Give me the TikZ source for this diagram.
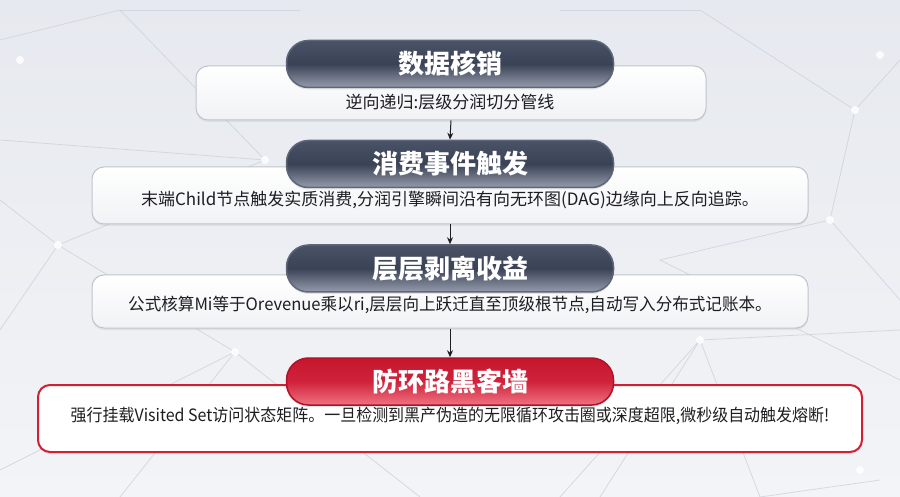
\documentclass[tikz,border=0pt]{standalone}
\usepackage{fontspec}
\usepackage{graphicx}
\newfontfamily\cjk{Noto Sans CJK SC}
\usetikzlibrary{shadows,arrows.meta}
\definecolor{bgTop}{HTML}{E6E9EF}
\definecolor{bgBot}{HTML}{F3F4F7}
\definecolor{netLine}{HTML}{CDD2DB}
\definecolor{cardEdge}{HTML}{BFC4CD}
\definecolor{cardBot}{HTML}{F1F2F5}
\definecolor{pillTop}{HTML}{4A5267}
\definecolor{pillMid}{HTML}{3A4256}
\definecolor{pillBot}{HTML}{959CAC}
\definecolor{pillEdge}{HTML}{5E6679}
\definecolor{redTop}{HTML}{C4162D}
\definecolor{redMid}{HTML}{D0223A}
\definecolor{redBot}{HTML}{EE7382}
\definecolor{redEdge}{HTML}{B31027}
\definecolor{redLine}{HTML}{D11F33}
\definecolor{txt}{HTML}{1E1E22}
\tikzset{
  card/.style={draw=cardEdge, line width=1pt, rounded corners=12pt,
    top color=white, bottom color=cardBot, inner sep=0pt,
    drop shadow={opacity=0.12, shadow xshift=0pt, shadow yshift=-2pt}},
  redcard/.style={draw=redLine, line width=2pt, rounded corners=12pt,
    fill=white, inner sep=0pt,
    drop shadow={opacity=0.12, shadow xshift=0pt, shadow yshift=-2pt}},
  pill/.style={draw=pillEdge, line width=1.5pt, rounded corners=22pt,
    minimum width=327pt, minimum height=47pt, inner sep=0pt,
    top color=pillTop, bottom color=pillBot, middle color=pillMid,
    text=white, font=\cjk\bfseries\fontsize{26}{26}\selectfont,
    drop shadow={opacity=0.2, shadow xshift=0pt, shadow yshift=-2pt}},
  redpill/.style={pill, draw=redEdge, top color=redTop, bottom color=redBot, middle color=redMid},
  sub/.style={text=txt, font=\cjk\fontsize{17}{17}\selectfont, inner sep=0pt},
  arr/.style={draw=txt, line width=1pt, -{Stealth[length=7pt,width=6pt]}},
  net/.style={draw=netLine, line width=0.8pt, opacity=0.8},
  dot/.style={fill=white, opacity=0.85}
}
\begin{document}
\begin{tikzpicture}[x=1pt,y=-1pt]
\useasboundingbox (0,0) rectangle (900,497);
\shade[top color=bgTop, bottom color=bgBot] (0,0) rectangle (900,497);
% background network
\foreach \a/\b in {
  {(0,40)}/{(120,10)}, {(120,10)}/{(265,160)}, {(0,140)}/{(265,160)},
  {(58,245)}/{(265,160)}, {(58,245)}/{(0,330)}, {(58,245)}/{(235,352)},
  {(235,352)}/{(120,497)}, {(235,352)}/{(0,470)}, {(235,352)}/{(420,497)},
  {(700,10)}/{(855,110)}, {(855,110)}/{(900,60)}, {(855,110)}/{(830,220)},
  {(830,220)}/{(900,300)}, {(830,220)}/{(660,260)}, {(660,260)}/{(900,380)},
  {(700,340)}/{(900,330)}, {(700,340)}/{(760,497)}, {(700,340)}/{(560,497)},
  {(880,480)}/{(760,497)}, {(560,10)}/{(700,10)}, {(300,10)}/{(120,10)},
  {(0,200)}/{(58,245)}, {(600,497)}/{(700,340)}}
  {\draw[net] \a -- \b;}
\foreach \p in {(58,245),(235,352),(265,160),(855,110),(830,220),(880,55),(700,340),(20,60),(860,470)}
  {\fill[dot] \p circle (4pt);}
% cards
\node[card, minimum width=510pt, minimum height=54pt] (b1) at (451,93) {};
\node[card, minimum width=716pt, minimum height=57pt] (b2) at (450,195.5) {};
\node[card, minimum width=716pt, minimum height=53pt] (b3) at (450,301.5) {};
\node[redcard, minimum width=824pt, minimum height=67pt] (b4) at (450,418.5) {};
% subtitles
\node[sub] (s1) at (450,102) {逆向递归:层级分润切分管线};
\node[sub] (s2) at (450,200) {末端Child节点触发实质消费,分润引擎瞬间沿有向无环图(DAG)边缘向上反向追踪。};
\node[sub] (s3) at (450,305) {\scalebox{0.975}[1]{公式核算Mi等于Orevenue乘以ri,层层向上跃迁直至顶级根节点,自动写入分布式记账本。}};
\node[sub] (s4) at (450,416) {\scalebox{0.94}[1]{强行挂载Visited Set访问状态矩阵。一旦检测到黑产伪造的无限循环攻击圈或深度超限,微秒级自动触发熔断!}};
% pills
\node[pill] (p1) at (450,64) {数据核销};
\node[pill] (p2) at (450,164) {消费事件触发};
\node[pill] (p3) at (450,268.5) {层层剥离收益};
\node[redpill] (p4) at (450,381.5) {防环路黑客墙};
% arrows
\draw[arr] (b1.south) -- (p2.north);
\draw[arr] (b2.south) -- (p3.north);
\draw[arr] (b3.south) -- (p4.north);
\end{tikzpicture}
\end{document}
